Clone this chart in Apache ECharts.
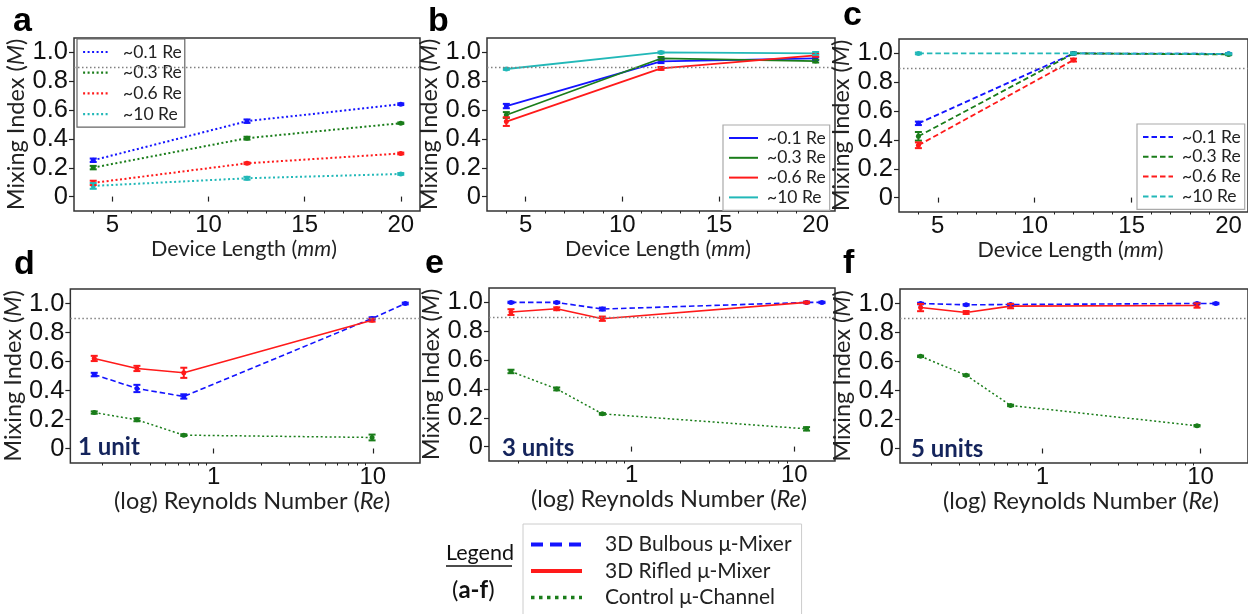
<!DOCTYPE html>
<html><head><meta charset="utf-8">
<script src="https://cdn.jsdelivr.net/npm/echarts@6/dist/echarts.min.js"></script>
<style>html,body{margin:0;padding:0;background:#fff}#c{width:1248px;height:614px}</style>
</head><body><div id="c"></div>
<script>
// ---------------- data ----------------
const deviceLengths = [4, 12, 20];
const reLegend = ['~0.1 Re', '~0.3 Re', '~0.6 Re', '~10 Re'];
const mixerNames = ['3D Bulbous μ-Mixer', '3D Rifled μ-Mixer', 'Control μ-Channel'];
const yTicks = [0, 0.2, 0.4, 0.6, 0.8, 1.0];
const lengthTicks = [5, 10, 15, 20];
const lengthMinorTicks = [4, 6, 7, 8, 9, 11, 12, 13, 14, 16, 17, 18, 19];
const reTicks = [1, 10];
const reMinorTicks = [0.2, 0.3, 0.4, 0.5, 0.6, 0.7, 0.8, 0.9, 2, 3, 4, 5, 6, 7, 8, 9];
const threshold = 0.9;

// panel a : control μ-channel (dotted)
const a01 = [0.252, 0.523, 0.641], a01Err = [0.012, 0.012, 0.006];
const a03 = [0.201, 0.405, 0.509], a03Err = [0.012, 0.010, 0.005];
const a06 = [0.095, 0.231, 0.299], a06Err = [0.015, 0.006, 0.006];
const a10 = [0.074, 0.127, 0.157], a10Err = [0.020, 0.010, 0.006];
// panel b : 3D rifled μ-mixer (solid)
const b01 = [0.628, 0.938, 0.958], b01Err = [0.015, 0.012, 0.010];
const b03 = [0.566, 0.958, 0.940], b03Err = [0.020, 0.010, 0.010];
const b06 = [0.520, 0.889, 0.980], b06Err = [0.030, 0.010, 0.010];
const b10 = [0.885, 1.000, 0.993], b10Err = [0.006, 0.006, 0.010];
// panel c : 3D bulbous μ-mixer (dashed)
const c01 = [0.515, 1.000, 0.997], c01Err = [0.012, 0.005, 0.005];
const c03 = [0.425, 1.000, 0.993], c03Err = [0.030, 0.005, 0.005];
const c06 = [0.363, 0.954, null], c06Err = [0.020, 0.010, null];
const c10 = [1.000, 1.000, 0.997], c10Err = [0.006, 0.005, 0.005];

// panel d : 1 unit
const reD = [0.178, 0.33, 0.65, 9.9, 16.0];
const bulbousD = [0.510, 0.414, 0.359, 0.897, 1.000], bulbousDErr = [0.012, 0.025, 0.015, 0.008, 0.006];
const rifledD = [0.621, 0.552, 0.522, 0.885], rifledDErr = [0.018, 0.018, 0.035, 0.010];
const controlD = [0.248, 0.198, 0.092, 0.076], controlDErr = [0.008, 0.010, 0.006, 0.020];
// panel e : 3 units
const reE = [0.181, 0.346, 0.66, 11.9, 14.8];
const bulbousE = [1.000, 1.000, 0.954, 1.000, 1.000], bulbousEErr = [0.005, 0.005, 0.010, 0.005, 0.005];
const rifledE = [0.933, 0.956, 0.887, 1.000], rifledEErr = [0.020, 0.010, 0.015, 0.005];
const controlE = [0.521, 0.400, 0.227, 0.123], controlEErr = [0.012, 0.010, 0.006, 0.012];
// panel f : 5 units
const reF = [0.17, 0.33, 0.63, 9.5, 12.5];
const bulbousF = [1.000, 0.991, 0.993, 1.000, 1.000], bulbousFErr = [0.005, 0.005, 0.005, 0.005, 0.005];
const rifledF = [0.972, 0.938, 0.982, 0.986], rifledFErr = [0.025, 0.010, 0.015, 0.015];
const controlF = [0.636, 0.505, 0.297, 0.157], controlFErr = [0.005, 0.005, 0.005, 0.005];

// ---------------- styling ----------------
const COL = { blue: '#1414ff', green: '#1a7d1a', red: '#ff1a1a', cyan: '#22b8b8' };
const reColors = [COL.blue, COL.green, COL.red, COL.cyan];
const mixerColors = [COL.blue, COL.red, COL.green];
const DOT = [2, 2.5], DASH = [5.5, 3], SOLID = 'solid';
const mixerTypes = [DASH, SOLID, DOT];
const NUM_FONT = 'Liberation Sans';
const TXT_FONT = 'Lato';

const grids = [
  { left: 74, top: 38, width: 346, height: 173 },
  { left: 487, top: 38, width: 348, height: 173 },
  { left: 899, top: 39, width: 350, height: 173 },
  { left: 70, top: 289, width: 350, height: 174 },
  { left: 489, top: 288, width: 346, height: 173 },
  { left: 900, top: 289, width: 349, height: 174 }
];
const logRange = [[0.126, 19.8], [0.1326, 17.8], [0.126, 19.95]];

function nameStyle(size, extra) {
  return Object.assign({
    fontFamily: TXT_FONT, fontSize: size, color: '#222',
    rich: { i: { fontFamily: TXT_FONT, fontSize: size, fontStyle: 'italic', color: '#222' } }
  }, extra || {});
}

const xAxes = [], yAxes = [], series = [];
grids.forEach((g, k) => {
  const isLog = k >= 3;
  const base = isLog ? { type: 'log', logBase: 10, min: logRange[k - 3][0], max: logRange[k - 3][1] }
                     : { type: 'value', min: 3, max: 21 };
  xAxes.push(Object.assign({}, base, {
    gridIndex: k, position: 'bottom',
    axisLine: { show: false }, splitLine: { show: false },
    axisTick: { show: true, length: 5, customValues: isLog ? reTicks : lengthTicks, lineStyle: { color: '#222', width: 1.2 } },
    axisLabel: { customValues: isLog ? reTicks : lengthTicks, margin: 2, fontFamily: NUM_FONT, fontSize: 24, color: '#111' },
    name: isLog ? '(log) Reynolds Number ({i|Re})' : 'Device Length ({i|mm})',
    nameLocation: 'middle', nameGap: isLog ? 23 : 25,
    nameTextStyle: isLog ? nameStyle(23.5, { padding: [0, 0, 0, 14] }) : nameStyle(21.5, { padding: [0, 6, 0, 0] })
  }));
  yAxes.push({
    type: 'value', gridIndex: k, min: -0.1, max: 1.1,
    axisLine: { show: false }, splitLine: { show: false },
    axisTick: { show: true, length: 5, customValues: yTicks, lineStyle: { color: '#222', width: 1.2 } },
    axisLabel: { customValues: yTicks, margin: 6, fontFamily: NUM_FONT, fontSize: 25.5, color: '#111',
      formatter: v => (v === 0 ? '0' : v.toFixed(1)) },
    name: 'Mixing Index ({i|M})', nameLocation: 'middle', nameGap: 28, nameTextStyle: nameStyle(23.5)
  });
});
// minor tick axes
grids.forEach((g, k) => {
  const isLog = k >= 3;
  const base = isLog ? { type: 'log', logBase: 10, min: logRange[k - 3][0], max: logRange[k - 3][1] }
                     : { type: 'value', min: 3, max: 21 };
  xAxes.push(Object.assign({}, base, {
    gridIndex: k, position: 'bottom',
    axisLine: { show: false }, splitLine: { show: false }, axisLabel: { show: false },
    axisTick: { show: true, length: 2.5, customValues: isLog ? reMinorTicks : lengthMinorTicks, lineStyle: { color: '#222', width: 1 } }
  }));
});

function errRender(color) {
  return function (params, api) {
    const x = api.value(0), y = api.value(1), e = api.value(2);
    const t = api.coord([x, y + e]), b = api.coord([x, y - e]);
    const hw = 3.5, st = { stroke: color, lineWidth: 2 };
    return { type: 'group', children: [
      { type: 'line', shape: { x1: t[0], y1: t[1], x2: b[0], y2: b[1] }, style: st },
      { type: 'line', shape: { x1: t[0] - hw, y1: t[1], x2: t[0] + hw, y2: t[1] }, style: st },
      { type: 'line', shape: { x1: b[0] - hw, y1: b[1], x2: b[0] + hw, y2: b[1] }, style: st }
    ] };
  };
}

const thresholdLine = {
  silent: true, symbol: 'none', label: { show: false }, animation: false,
  lineStyle: { color: '#808080', type: [1.5, 2.5], width: 1.3 },
  data: [{ yAxis: threshold }]
};

function addSeries(k, name, xs, ys, errs, color, type, width, withThreshold) {
  const pts = [], ebs = [];
  ys.forEach((y, i) => {
    pts.push([xs[i], y]);
    if (y != null) ebs.push([xs[i], y, errs[i]]);
  });
  const s = {
    type: 'line', name, xAxisIndex: k, yAxisIndex: k, data: pts,
    symbol: 'circle', symbolSize: 5, showSymbol: true, connectNulls: false,
    lineStyle: { color, type, width }, itemStyle: { color },
    emphasis: { disabled: true }, animation: false, z: 3
  };
  if (withThreshold) s.markLine = thresholdLine;
  series.push(s);
  series.push({
    type: 'custom', name: name + ' error', xAxisIndex: k, yAxisIndex: k,
    data: ebs, encode: { x: 0, y: 1 }, renderItem: errRender(color), animation: false, z: 4, silent: true
  });
}

const aSets = [[a01, a01Err], [a03, a03Err], [a06, a06Err], [a10, a10Err]];
const bSets = [[b01, b01Err], [b03, b03Err], [b06, b06Err], [b10, b10Err]];
const cSets = [[c01, c01Err], [c03, c03Err], [c06, c06Err], [c10, c10Err]];
aSets.forEach((s, i) => addSeries(0, reLegend[i], deviceLengths, s[0], s[1], reColors[i], DOT, 2, i === 0));
bSets.forEach((s, i) => addSeries(1, reLegend[i], deviceLengths, s[0], s[1], reColors[i], SOLID, 1.8, i === 0));
cSets.forEach((s, i) => addSeries(2, reLegend[i], deviceLengths, s[0], s[1], reColors[i], DASH, 1.8, i === 0));

const dSets = [[bulbousD, bulbousDErr], [rifledD, rifledDErr], [controlD, controlDErr]];
const eSets = [[bulbousE, bulbousEErr], [rifledE, rifledEErr], [controlE, controlEErr]];
const fSets = [[bulbousF, bulbousFErr], [rifledF, rifledFErr], [controlF, controlFErr]];
[[dSets, reD], [eSets, reE], [fSets, reF]].forEach((p, j) => {
  p[0].forEach((s, i) => addSeries(3 + j, mixerNames[i], p[1], s[0], s[1], mixerColors[i], mixerTypes[i], i === 2 ? 1.5 : 1.6, i === 0));
});

function panelLegend(left, top, lineType, lineW, itemW, textPad, border, gap, padR) {
  return {
    data: reLegend, orient: 'vertical', left, top, selectedMode: false,
    padding: [4, padR, 4, 5], itemWidth: itemW, itemHeight: 14, itemGap: gap,
    backgroundColor: '#fff', borderColor: border, borderWidth: 1.2,
    textStyle: { fontFamily: TXT_FONT, fontSize: 17.5, color: '#222', padding: [0, 0, 0, textPad] },
    lineStyle: { type: lineType, width: lineW }, itemStyle: { opacity: 0 }
  };
}

const legends = [
  panelLegend(77, 39, DOT, 2.2, 25, 10, '#666', 2.7, 3),
  panelLegend(723, 125, SOLID, 2, 29, 4, '#aaa', 1.8, 4),
  panelLegend(1137, 124, DASH, 2, 30, 4, '#aaa', 1.8, 4),
  {
    data: [
      { name: mixerNames[0], lineStyle: { type: [12, 7], width: 4 } },
      { name: mixerNames[1], lineStyle: { type: 'solid', width: 4 } },
      { name: mixerNames[2], lineStyle: { type: [3.5, 4.5], width: 3.5 } }
    ],
    orient: 'vertical', left: 523, top: 524, height: 200, selectedMode: false,
    padding: [10, 10, 30, 6], itemWidth: 51, itemHeight: 14, itemGap: 5.5,
    backgroundColor: '#fff', borderColor: '#ccc', borderWidth: 1,
    textStyle: { fontFamily: TXT_FONT, fontSize: 21, color: '#222', padding: [0, 0, 0, 18] },
    lineStyle: { width: 4 }, itemStyle: { opacity: 0 }
  }
];

const letterFont = 'bold 34px "Liberation Sans", Arial, sans-serif';
const unitFont = 'bold 24px Lato, sans-serif';
function txt(x, y, text, font, fill) {
  return { type: 'text', x, y, silent: true, style: { text, font, fill: fill || '#000', textVerticalAlign: 'middle' } };
}
const graphics = [
  txt(13, 21.5, 'a', letterFont), txt(428, 21.5, 'b', letterFont), txt(843, 15.5, 'c', letterFont),
  txt(14, 264.5, 'd', letterFont), txt(425, 263.5, 'e', letterFont), txt(843, 264, 'f', letterFont),
  txt(78, 447, '1 unit', unitFont, '#14245c'),
  txt(502, 448, '3 units', unitFont, '#14245c'),
  txt(911, 449, '5 units', unitFont, '#14245c'),
  txt(446, 553, 'Legend', '21.5px Lato, sans-serif', '#111'),
  { type: 'line', silent: true, shape: { x1: 446, y1: 566, x2: 512, y2: 566 }, style: { stroke: '#111', lineWidth: 1.5 } },
  { type: 'text', x: 452, y: 590, silent: true, style: {
      text: '({b|a-f})', font: '24px Lato, sans-serif', fill: '#111', textVerticalAlign: 'middle',
      rich: { b: { fontFamily: 'Lato', fontWeight: 'bold', fontSize: 24, fill: '#111' } } } }
];

const chart = echarts.init(document.getElementById('c'), null, { renderer: 'canvas' });
chart.setOption({
  backgroundColor: '#fff', animation: false,
  grid: grids.map(g => Object.assign({ show: true, borderColor: '#333', borderWidth: 1.5, backgroundColor: 'transparent', containLabel: false }, g)),
  xAxis: xAxes, yAxis: yAxes, legend: legends, series, graphic: graphics
});
</script></body></html>
